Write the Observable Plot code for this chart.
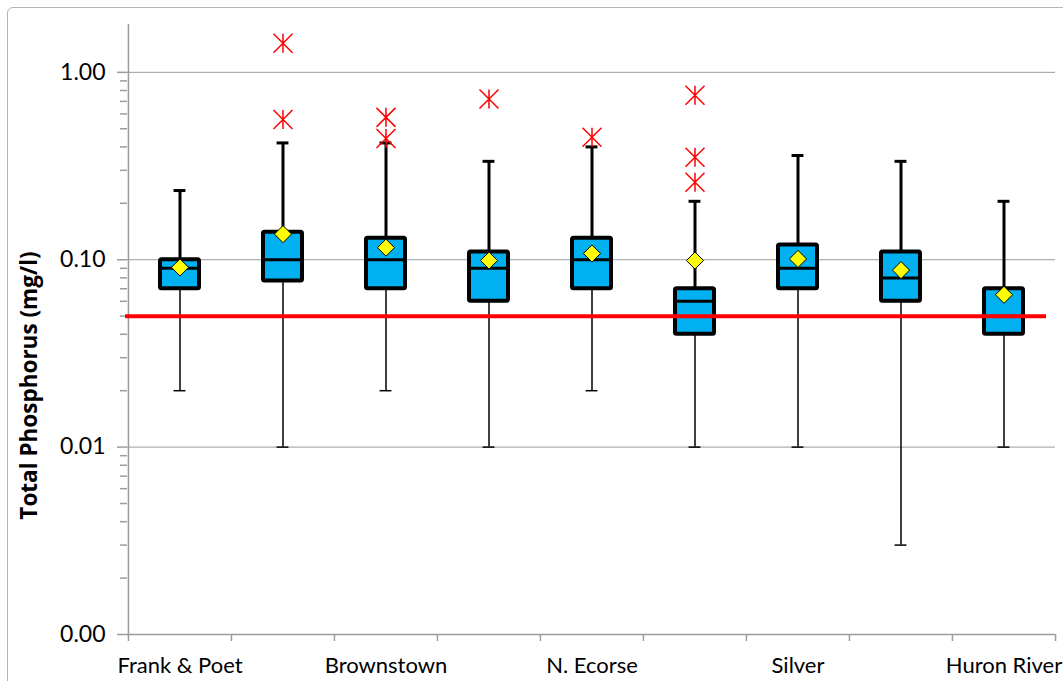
<!DOCTYPE html>
<html>
<head>
<meta charset="utf-8">
<script src="https://cdn.jsdelivr.net/npm/d3@7"></script>
<script src="https://cdn.jsdelivr.net/npm/@observablehq/plot@0.6"></script>
<style>
  html, body { margin: 0; padding: 0; background: #fff; }
  #wrap { position: relative; width: 1063px; height: 681px; overflow: hidden; background: #fff; }
  #border { position: absolute; left: 7px; top: 7px; width: 1200px; height: 1200px;
            border: 1.5px solid #b4b4b4; border-radius: 6px; pointer-events: none; }
  #chart { position: absolute; left: 0; top: 0; }
</style>
</head>
<body>
<div id="wrap"><div id="chart"></div><div id="border"></div></div>
<script>
// ---- data ----
const categories = ["Frank & Poet", "Site 2", "Brownstown", "Site 4", "N. Ecorse", "Site 6", "Silver", "Site 8", "Huron River"];
const labeledCategories = ["Frank & Poet", "Brownstown", "N. Ecorse", "Silver", "Huron River"];
const lowerWhisker = [0.02, 0.01, 0.02, 0.01, 0.02, 0.01, 0.01, 0.003, 0.01];
const q1Values     = [0.07, 0.077, 0.07, 0.06, 0.07, 0.04, 0.07, 0.06, 0.04];
const medianValues = [0.09, 0.10, 0.10, 0.09, 0.10, 0.06, 0.09, 0.08, 0.05];
const q3Values     = [0.10, 0.14, 0.13, 0.11, 0.13, 0.07, 0.12, 0.11, 0.07];
const upperWhisker = [0.234, 0.42, 0.42, 0.335, 0.40, 0.205, 0.36, 0.335, 0.205];
const meanValues   = [0.091, 0.137, 0.116, 0.099, 0.108, 0.099, 0.101, 0.088, 0.065];
const outlierSites  = ["Site 2", "Site 2", "Brownstown", "Brownstown", "Site 4", "N. Ecorse", "Site 6", "Site 6", "Site 6"];
const outlierValues = [1.43, 0.56, 0.575, 0.444, 0.72, 0.45, 0.754, 0.352, 0.259];
const targetValue = [0.05];
const yMajorTicks = [0.001, 0.01, 0.1, 1];
const yMinorMultipliers = [2, 3, 4, 5, 6, 7, 8, 9];
const yTitle = ["Total Phosphorus (mg/l)"];

// ---- build tables ----
const boxes = categories.map((site, i) => ({
  site, low: lowerWhisker[i], q1: q1Values[i], med: medianValues[i],
  q3: q3Values[i], high: upperWhisker[i], mean: meanValues[i]
}));
const outliers = outlierSites.map((site, i) => ({site, value: outlierValues[i]}));
const yMinorTicks = yMajorTicks.slice(0, 3).flatMap(d => yMinorMultipliers.map(m => d * m))
  .concat(yMinorMultipliers.filter(m => m < 1.8));

const W = 1063, H = 681, mL = 127, mR = 8, mT = 24, mB = 47;
const bw = (W - mL - mR) / categories.length;
const boxInset = 32;
const capInset = (bw - 12) / 2;
const axisGray = "#9c9c9c";

// star marker (Excel "star": X plus vertical bar)
const star = {
  draw(context, size) {
    const r = Math.sqrt(size / Math.PI);
    context.moveTo(0, -r); context.lineTo(0, r);
    context.moveTo(-r, -r); context.lineTo(r, r);
    context.moveTo(-r, r); context.lineTo(r, -r);
  }
};

const chart = Plot.plot({
  width: W, height: H,
  marginLeft: mL, marginRight: mR, marginTop: mT, marginBottom: mB,
  style: {fontFamily: "Lato, 'Open Sans', sans-serif", background: "transparent", color: "#000"},
  x: {type: "band", domain: categories, padding: 0, label: null},
  y: {type: "log", domain: [0.001, 1.8], label: null},
  marks: [
    Plot.gridY(yMajorTicks.slice(1), {stroke: axisGray, strokeOpacity: 1, strokeWidth: 1}),
    // axes lines
    Plot.ruleY([0.001], {stroke: axisGray, strokeWidth: 1.5}),
    Plot.ruleX([categories[0]], {y1: 0.001, y2: 1.8, dx: -bw / 2, stroke: axisGray, strokeWidth: 1.5}),
    // x boundary ticks
    Plot.ruleX(categories, {y1: 0.001, y2: 0.001, insetBottom: -7, dx: -bw / 2, stroke: axisGray, strokeWidth: 1.5}),
    Plot.ruleX([categories[categories.length - 1]], {y1: 0.001, y2: 0.001, insetBottom: -7, dx: bw / 2, stroke: axisGray, strokeWidth: 1.5}),
    // y axis
    Plot.axisY({ticks: yMinorTicks, tickSize: 7, tickFormat: () => "", stroke: axisGray, strokeWidth: 1.5, label: null}),
    Plot.axisY({ticks: yMajorTicks, tickSize: 10, tickPadding: 12, tickFormat: d3.format(".2f"),
      stroke: axisGray, strokeWidth: 1.5, fontSize: 23, label: null}),
    // x axis labels
    Plot.axisX({ticks: labeledCategories, tickSize: 0, tickPadding: 23, fontSize: 22, label: null}),
    // y title
    Plot.text(yTitle, {text: d => d, frameAnchor: "left", textAnchor: "middle", dx: -98, dy: 56, rotate: -90,
      fontSize: 22.5, fontWeight: "bold", fontFamily: "'Open Sans', sans-serif", fill: "#000"}),
    // whiskers
    Plot.ruleX(boxes, {x: "site", y1: "low", y2: "q1", stroke: "#000", strokeWidth: 1.5}),
    Plot.tickY(boxes, {x: "site", y: "low", insetLeft: capInset, insetRight: capInset, stroke: "#000", strokeWidth: 1.5}),
    Plot.ruleX(boxes, {x: "site", y1: "q3", y2: "high", stroke: "#000", strokeWidth: 3}),
    Plot.tickY(boxes, {x: "site", y: "high", insetLeft: capInset, insetRight: capInset, stroke: "#000", strokeWidth: 3}),
    // boxes
    Plot.barY(boxes, {x: "site", y1: "q1", y2: "q3", insetLeft: boxInset, insetRight: boxInset,
      fill: "#00b0f0", stroke: "#000", strokeWidth: 4, rx: 1.5}),
    Plot.tickY(boxes, {x: "site", y: "med", insetLeft: boxInset, insetRight: boxInset, stroke: "#000", strokeWidth: 3}),
    // target line
    Plot.ruleY(targetValue, {stroke: "#ff0000", strokeWidth: 4, insetLeft: -2, insetRight: 9}),
    // means
    Plot.dot(boxes, {x: "site", y: "mean", symbol: "diamond2", r: 7.7, fill: "#ffff00", stroke: "#000", strokeWidth: 1}),
    // outliers
    Plot.dot(outliers, {x: "site", y: "value", symbol: star, r: 9.5, fill: "none", stroke: "#ff0000", strokeWidth: 1.5})
  ]
});
document.getElementById("chart").appendChild(chart);
</script>
</body>
</html>
